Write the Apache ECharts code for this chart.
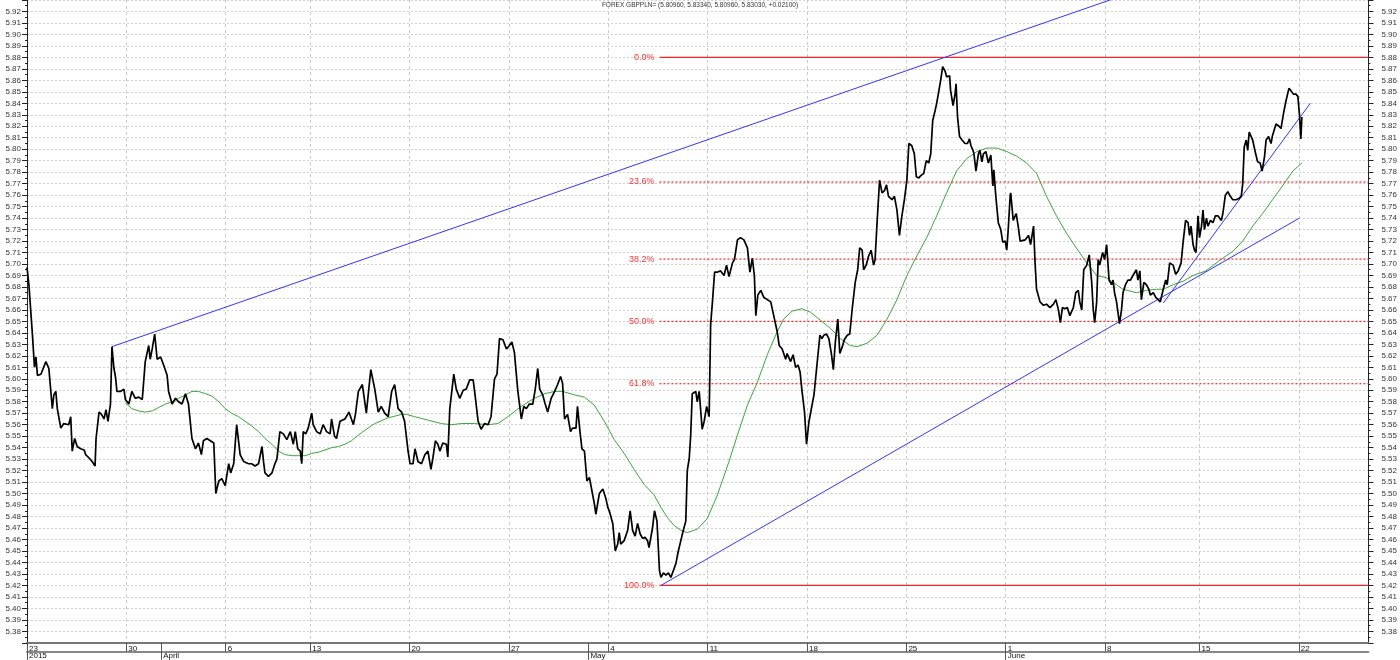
<!DOCTYPE html>
<html><head><meta charset="utf-8">
<script src="https://cdn.jsdelivr.net/npm/echarts@6/dist/echarts.min.js"></script>
<style>html,body{margin:0;padding:0;background:#fff}#c{width:1400px;height:660px}</style>
</head><body><div id="c"></div>
<script>
// ---------- DATA ----------
const titleText = 'FOREX GBPPLN= (5.80960, 5.83340, 5.80960, 5.83030, +0.02100)';
// x unit: trading-session slot (quarter of a trading day) counted from Mon 23 Mar 2015
const totalSlots = 270;
const weekSlots  = [0, 20, 40, 57, 77, 97, 117, 137, 157, 177, 197, 217, 236, 256];
const weekLabels = ['23','30','6','13','20','27','4','11','18','25','1','8','15','22'];
const monthSlots  = [0, 27, 113, 197];
const monthLabels = ['2015','April','May','June'];
const yMin = 5.37, yMax = 5.93, yStep = 0.01;

// [slot, price]
const price = [
[0,5.697],[0.4,5.681],[1.1,5.638],[1.5,5.610],[1.8,5.619],[2.1,5.603],[2.8,5.604],[3.8,5.615],[4.4,5.609],[5.1,5.574],
[5.4,5.586],[5.8,5.589],[6.1,5.574],[6.8,5.557],[7.4,5.561],[8.4,5.560],[8.8,5.567],[9.1,5.537],[9.6,5.548],[10.1,5.541],
[10.8,5.539],[11.5,5.538],[11.8,5.534],[12.5,5.531],[13.1,5.528],[13.7,5.524],[13.9,5.548],[14.5,5.571],[15.0,5.569],[15.5,5.565],
[15.9,5.573],[16.3,5.563],[16.8,5.578],[17.1,5.628],[17.5,5.609],[17.8,5.602],[18.1,5.589],[18.8,5.589],[19.5,5.591],[19.8,5.582],
[20.5,5.578],[21.1,5.589],[21.8,5.583],[22.5,5.584],[23.2,5.582],[23.8,5.615],[24.5,5.629],[24.8,5.617],[25.2,5.626],[25.7,5.639],
[26.2,5.617],[26.9,5.619],[27.5,5.612],[28.2,5.603],[28.5,5.589],[29.2,5.578],[29.9,5.583],[30.5,5.580],[31.2,5.578],[31.9,5.587],
[32.5,5.578],[33.2,5.548],[33.9,5.539],[34.5,5.544],[35.1,5.534],[35.5,5.546],[36.2,5.548],[36.9,5.546],[37.6,5.544],[38.0,5.500],
[38.6,5.511],[39.2,5.513],[39.9,5.507],[40.6,5.526],[41.0,5.518],[41.6,5.526],[42.2,5.560],[42.6,5.560],[42.9,5.534],[43.6,5.528],
[44.6,5.526],[45.2,5.526],[45.9,5.524],[46.6,5.526],[47.3,5.541],[47.6,5.528],[47.9,5.518],[48.6,5.515],[49.3,5.518],[49.9,5.526],
[50.3,5.530],[50.9,5.554],[51.6,5.552],[52.3,5.547],[53.0,5.554],[53.6,5.543],[54.0,5.554],[54.5,5.539],[55.0,5.537],[55.3,5.526],
[55.6,5.554],[56.1,5.552],[56.6,5.557],[57.3,5.570],[57.6,5.560],[58.3,5.554],[59.0,5.552],[59.6,5.560],[60.3,5.554],[61.0,5.552],
[61.3,5.565],[61.9,5.550],[62.3,5.548],[63.0,5.563],[64.0,5.565],[64.8,5.571],[65.7,5.560],[66.1,5.569],[66.7,5.589],[67.5,5.595],
[68.3,5.570],[69.2,5.608],[70.0,5.591],[70.7,5.571],[71.3,5.576],[72.0,5.570],[72.7,5.567],[73.4,5.589],[74.0,5.595],[74.7,5.574],
[75.4,5.571],[76.0,5.563],[76.7,5.537],[77.1,5.526],[77.7,5.526],[78.1,5.539],[78.7,5.528],[79.4,5.526],[80.1,5.534],[80.7,5.537],
[81.3,5.521],[81.7,5.531],[82.2,5.546],[82.7,5.543],[83.1,5.537],[83.7,5.544],[84.4,5.543],[84.7,5.532],[85.1,5.574],[85.9,5.604],
[86.4,5.591],[87.1,5.583],[87.8,5.590],[88.4,5.591],[89.1,5.599],[89.8,5.599],[90.1,5.589],[90.8,5.563],[91.4,5.556],[92.1,5.561],
[92.8,5.560],[93.4,5.567],[94.1,5.600],[94.6,5.604],[95.1,5.635],[95.8,5.634],[96.5,5.626],[97.1,5.629],[97.6,5.632],[98.1,5.623],
[98.8,5.589],[99.5,5.565],[100.0,5.576],[100.5,5.574],[101.1,5.578],[101.8,5.578],[102.3,5.591],[102.8,5.609],[103.2,5.591],[103.8,5.586],
[104.3,5.578],[104.8,5.571],[105.5,5.583],[106.2,5.589],[106.8,5.595],[107.4,5.602],[107.8,5.596],[108.2,5.565],[108.8,5.569],[109.4,5.554],
[109.8,5.557],[110.5,5.557],[110.8,5.576],[111.3,5.554],[111.7,5.539],[112.2,5.537],[112.7,5.511],[113.2,5.514],[113.5,5.515],[114.2,5.491],
[114.5,5.482],[115.2,5.500],[115.9,5.504],[116.5,5.496],[116.9,5.488],[117.2,5.485],[117.9,5.474],[118.4,5.450],[118.9,5.456],[119.2,5.466],
[119.5,5.456],[120.2,5.459],[120.9,5.468],[121.4,5.485],[121.9,5.468],[122.4,5.463],[122.9,5.474],[123.4,5.465],[123.9,5.461],[124.4,5.462],
[124.9,5.459],[125.2,5.453],[125.9,5.470],[126.3,5.485],[126.8,5.476],[127.3,5.433],[127.6,5.427],[128.1,5.431],[128.6,5.429],[129.1,5.431],
[129.6,5.427],[130.1,5.433],[130.6,5.439],[131.1,5.450],[131.6,5.459],[132.1,5.468],[132.6,5.476],[132.9,5.520],[133.3,5.531],[133.6,5.552],
[133.9,5.587],[134.6,5.589],[134.9,5.580],[135.3,5.589],[135.9,5.556],[136.3,5.563],[136.8,5.576],[137.3,5.567],[137.6,5.647],[138.0,5.669],
[138.4,5.693],[139.0,5.693],[139.6,5.694],[140.3,5.690],[140.8,5.699],[141.3,5.689],[142.0,5.701],[142.4,5.704],[143.0,5.721],[143.6,5.723],
[144.3,5.721],[145.0,5.714],[145.5,5.693],[146.0,5.705],[146.4,5.690],[146.7,5.655],[147.1,5.673],[147.7,5.677],[148.3,5.671],[149.0,5.669],
[149.7,5.667],[150.3,5.655],[151.0,5.641],[151.4,5.629],[152.0,5.626],[152.7,5.617],[153.0,5.622],[153.7,5.615],[154.2,5.621],[154.7,5.610],
[155.2,5.612],[155.6,5.606],[156.0,5.589],[156.5,5.571],[156.9,5.543],[157.4,5.563],[157.8,5.563],[158.4,5.586],[159.0,5.612],[159.6,5.638],
[160.0,5.635],[160.4,5.638],[160.9,5.639],[161.4,5.635],[161.9,5.622],[162.3,5.608],[162.7,5.632],[163.2,5.652],[163.6,5.622],[164.1,5.628],
[164.5,5.634],[165.1,5.638],[165.6,5.639],[166.1,5.661],[166.7,5.684],[167.2,5.695],[167.6,5.714],[168.1,5.712],[168.4,5.695],[168.9,5.699],
[169.4,5.707],[169.9,5.712],[170.4,5.699],[170.7,5.704],[171.1,5.736],[171.6,5.773],[172.1,5.762],[172.6,5.764],[173.0,5.769],[173.4,5.759],
[174.1,5.756],[174.6,5.759],[175.1,5.747],[175.6,5.725],[176.1,5.742],[176.6,5.756],[177.1,5.773],[177.5,5.805],[178.1,5.803],[178.6,5.796],
[179.0,5.776],[179.5,5.775],[179.9,5.777],[180.5,5.779],[181.0,5.790],[181.5,5.788],[181.9,5.796],[182.3,5.825],[182.8,5.834],[183.1,5.840],
[183.5,5.840],[183.9,5.860],[184.3,5.872],[184.8,5.868],[185.1,5.863],[185.7,5.864],[185.9,5.851],[186.4,5.838],[186.8,5.848],[187.0,5.857],
[187.3,5.828],[187.7,5.811],[188.2,5.808],[188.8,5.805],[189.3,5.805],[189.7,5.809],[190.0,5.803],[190.4,5.799],[190.6,5.796],[191.0,5.781],
[191.5,5.796],[191.8,5.799],[192.2,5.789],[192.5,5.796],[193.0,5.798],[193.5,5.788],[194.0,5.795],[194.4,5.768],[194.6,5.782],[195.0,5.759],
[195.5,5.736],[196.0,5.730],[196.4,5.719],[196.9,5.720],[197.2,5.712],[197.5,5.730],[197.9,5.760],[198.0,5.762],[198.5,5.738],[199.1,5.744],
[199.5,5.733],[199.9,5.720],[200.9,5.721],[201.6,5.725],[202.0,5.717],[202.6,5.733],[202.9,5.701],[203.2,5.678],[203.9,5.667],[204.6,5.664],
[205.2,5.665],[205.9,5.662],[206.6,5.665],[207.1,5.669],[207.6,5.660],[208.0,5.649],[208.4,5.662],[208.9,5.661],[209.4,5.662],[209.9,5.655],
[210.6,5.662],[211.1,5.675],[211.6,5.677],[211.9,5.667],[212.3,5.660],[212.7,5.695],[213.3,5.699],[213.8,5.708],[214.3,5.684],[214.6,5.661],
[214.9,5.649],[215.3,5.667],[215.6,5.704],[215.9,5.699],[216.5,5.710],[216.9,5.704],[217.3,5.717],[217.8,5.686],[218.3,5.682],[218.6,5.686],
[218.9,5.675],[219.3,5.667],[219.9,5.648],[220.3,5.660],[220.6,5.675],[221.1,5.682],[221.6,5.686],[222.1,5.686],[222.6,5.690],[223.3,5.695],
[223.6,5.686],[224.0,5.694],[224.3,5.669],[224.8,5.684],[225.3,5.682],[225.8,5.678],[226.1,5.673],[226.7,5.675],[227.2,5.671],[227.7,5.669],
[228.1,5.667],[228.7,5.678],[229.2,5.686],[229.5,5.682],[230.0,5.701],[230.7,5.699],[231.2,5.691],[231.7,5.694],[232.3,5.701],[232.7,5.719],
[233.2,5.738],[233.7,5.736],[234.0,5.725],[234.3,5.733],[234.7,5.717],[235.0,5.712],[235.3,5.710],[235.7,5.742],[236.0,5.723],[236.4,5.733],
[236.7,5.747],[237.0,5.730],[237.4,5.740],[237.7,5.733],[238.2,5.738],[238.7,5.736],[239.2,5.742],[239.7,5.742],[240.4,5.738],[240.7,5.744],
[241.2,5.760],[241.7,5.763],[242.2,5.759],[242.7,5.756],[243.4,5.756],[243.9,5.757],[244.4,5.759],[244.7,5.770],[245.0,5.802],[245.4,5.808],
[245.7,5.799],[246.0,5.815],[246.7,5.808],[247.3,5.796],[247.7,5.789],[248.2,5.788],[248.6,5.781],[249.1,5.794],[249.4,5.808],[249.9,5.811],
[250.4,5.805],[250.7,5.812],[251.4,5.822],[252.0,5.820],[252.4,5.818],[252.9,5.831],[253.4,5.842],[254.0,5.853],[254.4,5.851],[254.9,5.848],
[255.4,5.848],[255.8,5.846],[256.1,5.831],[256.4,5.809],[256.6,5.828]
];

// [slot, moving average]
const movingAvg = [
[19.8,5.579],[21.1,5.574],[22.5,5.572],[23.8,5.571],[25.2,5.572],[26.5,5.575],[27.9,5.578],[29.2,5.580],[30.5,5.583],[31.9,5.586],
[33.2,5.589],[34.5,5.589],[35.9,5.587],[37.2,5.585],[38.6,5.580],[39.9,5.574],[41.2,5.570],[42.6,5.567],[43.9,5.563],[45.2,5.559],
[46.6,5.554],[47.9,5.548],[49.3,5.543],[50.6,5.537],[51.9,5.534],[53.3,5.533],[54.6,5.533],[56.0,5.533],[57.3,5.535],[58.6,5.536],
[60.0,5.538],[61.3,5.540],[62.7,5.541],[64.0,5.543],[65.3,5.546],[67.3,5.553],[70.0,5.561],[72.7,5.566],[75.4,5.569],[76.4,5.569],
[78.0,5.567],[80.7,5.564],[83.4,5.561],[85.4,5.560],[87.4,5.561],[90.1,5.561],[92.8,5.560],[94.8,5.561],[96.8,5.567],[99.5,5.576],
[102.1,5.583],[104.2,5.587],[106.2,5.589],[107.8,5.589],[110.2,5.586],[112.2,5.584],[114.2,5.577],[116.2,5.563],[118.2,5.547],[120.2,5.535],
[122.2,5.521],[124.2,5.508],[126.2,5.499],[127.6,5.488],[128.9,5.479],[130.3,5.472],[131.6,5.468],[132.9,5.466],[134.9,5.469],[136.9,5.478],
[138.9,5.498],[141.3,5.528],[143.0,5.551],[145.0,5.577],[147.0,5.597],[149.0,5.621],[151.0,5.641],[152.3,5.652],[154.0,5.659],[156.0,5.661],
[157.7,5.658],[159.7,5.651],[161.7,5.644],[163.7,5.635],[165.7,5.629],[167.1,5.628],[169.1,5.631],[171.1,5.638],[173.1,5.652],[175.1,5.669],
[177.1,5.690],[179.1,5.707],[181.1,5.723],[183.1,5.742],[185.1,5.762],[187.1,5.781],[189.2,5.792],[191.2,5.798],[193.2,5.801],[195.2,5.801],
[197.2,5.798],[199.2,5.794],[201.2,5.788],[203.2,5.779],[205.2,5.759],[207.2,5.742],[209.2,5.727],[211.2,5.714],[213.3,5.701],[215.3,5.690],
[217.3,5.688],[218.6,5.684],[220.6,5.678],[223.3,5.675],[225.3,5.677],[227.3,5.678],[228.7,5.678],[230.7,5.682],[232.7,5.685],[234.7,5.690],
[237.3,5.694],[240.0,5.703],[242.7,5.711],[244.7,5.720],[246.7,5.733],[248.7,5.744],[250.7,5.756],[252.7,5.768],[254.8,5.781],[256.6,5.788]
];

// trend lines [slot, price]
const channelUpper = [[17.1, 5.628], [219.3, 5.932]];
const channelLower = [[127.6, 5.420], [256.1, 5.740]];
const trendShort   = [[228.7, 5.666], [258.3, 5.840]];

// Fibonacci retracement
const fibHigh = 5.88, fibLow = 5.42, fibStart = 127.3;
const fibPct    = [0, 23.6, 38.2, 50.0, 61.8, 100];
const fibLabels = ['0.0%', '23.6%', '38.2%', '50.0%', '61.8%', '100.0%'];
const fibSolid  = [true, false, false, false, false, true];

// ---------- CHART ----------
const FONT = '"Liberation Sans", Arial, sans-serif';
const FIB_RED = '#ff2222';
const slotCats  = Array.from({length: totalSlots + 1}, (_, i) => { const k = weekSlots.indexOf(i); return k >= 0 ? weekLabels[k] : ''; });
const monthCats = Array.from({length: totalSlots + 1}, (_, i) => { const k = monthSlots.indexOf(i); return k >= 0 ? monthLabels[k] : ''; });

const fibSeries = fibPct.map((p, i) => {
  const lvl = fibHigh - p / 100 * (fibHigh - fibLow);
  return {
    name: 'fib' + fibLabels[i], type: 'line', xAxisIndex: 0, yAxisIndex: 0, z: 3,
    symbol: 'circle', symbolSize: 0, showSymbol: true, silent: true,
    itemStyle: { color: FIB_RED },
    lineStyle: { color: FIB_RED, width: fibSolid[i] ? 1.4 : 1.2, type: fibSolid[i] ? 'solid' : [2, 2] },
    data: [
      { value: [fibStart, lvl],
        label: { show: true, position: 'left', distance: 5, formatter: fibLabels[i],
                 color: '#ff3333', fontSize: 9, fontFamily: FONT } },
      { value: [totalSlots, lvl], label: { show: false } }
    ]
  };
});

const yAxisBase = {
  type: 'value', min: yMin, max: yMax, interval: yStep,
  axisLine: { show: true, lineStyle: { color: '#222', width: 1 } },
  axisTick: { show: true, length: 5, lineStyle: { color: '#222' } },
  minorTick: { show: true, splitNumber: 2, length: 2, lineStyle: { color: '#222' } },
  axisLabel: { fontSize: 8, color: '#333', fontFamily: FONT, showMinLabel: false, showMaxLabel: false,
               formatter: v => v.toFixed(2) }
};

const option = {
  animation: false,
  backgroundColor: '#fff',
  title: { text: titleText, left: 'center', top: 2, padding: 0,
           textStyle: { fontSize: 6.5, fontWeight: 'normal', color: '#333', fontFamily: FONT } },
  grid: { left: 27, right: 27, top: -4.5, bottom: 17.2, containLabel: false },
  xAxis: [
    { type: 'value', min: 0, max: totalSlots, show: false },
    { type: 'category', data: slotCats, boundaryGap: false, position: 'bottom', offset: 0,
      axisLine: { show: true, onZero: false, lineStyle: { color: '#777', width: 2 } },
      axisTick: { show: true, length: 9, interval: i => weekSlots.includes(i) || monthSlots.includes(i), lineStyle: { color: '#555' } },
      axisLabel: { show: true, interval: i => weekSlots.includes(i), align: 'left', margin: 2, padding: [0, 0, 0, 2],
                   fontSize: 8, color: '#111', fontFamily: FONT },
      splitLine: { show: true, interval: i => weekSlots.includes(i) && i > 0, lineStyle: { color: '#cacaca', type: [3, 3] } } },
    { type: 'category', data: monthCats, boundaryGap: false, position: 'bottom', offset: 9,
      axisLine: { show: true, onZero: false, lineStyle: { color: '#888', width: 2 } },
      axisTick: { show: true, length: 8, interval: i => monthSlots.includes(i), lineStyle: { color: '#555' } },
      axisLabel: { show: true, interval: i => monthSlots.includes(i), align: 'left', margin: 0, padding: [0, 0, 0, 2],
                   fontSize: 8, color: '#111', fontFamily: FONT },
      splitLine: { show: false } }
  ],
  yAxis: [
    Object.assign({}, yAxisBase, { position: 'left',
      axisLabel: Object.assign({}, yAxisBase.axisLabel, { margin: 6 }),
      splitLine: { show: true, lineStyle: { color: '#d0d0d0', type: [2, 2] } } }),
    Object.assign({}, yAxisBase, { position: 'right',
      axisLabel: Object.assign({}, yAxisBase.axisLabel, { margin: 13 }),
      splitLine: { show: false } })
  ],
  series: fibSeries.concat([
    { name: 'MA', type: 'line', xAxisIndex: 0, yAxisIndex: 0, data: movingAvg, showSymbol: false, smooth: false,
      lineStyle: { color: '#3aa53a', width: 1 }, z: 4 },
    { name: 'upper', type: 'line', xAxisIndex: 0, yAxisIndex: 0, data: channelUpper, showSymbol: false,
      lineStyle: { color: '#3333ff', width: 1 }, z: 5 },
    { name: 'lower', type: 'line', xAxisIndex: 0, yAxisIndex: 0, data: channelLower, showSymbol: false,
      lineStyle: { color: '#3333ff', width: 1 }, z: 5 },
    { name: 'short', type: 'line', xAxisIndex: 0, yAxisIndex: 0, data: trendShort, showSymbol: false,
      lineStyle: { color: '#3333ff', width: 1 }, z: 5 },
    { name: 'GBPPLN', type: 'line', xAxisIndex: 0, yAxisIndex: 0, data: price, showSymbol: false,
      lineStyle: { color: '#000', width: 1.7 }, z: 6 }
  ])
};
const chart = echarts.init(document.getElementById('c'), null, { renderer: 'canvas' });
chart.setOption(option);
</script>
</body></html>
